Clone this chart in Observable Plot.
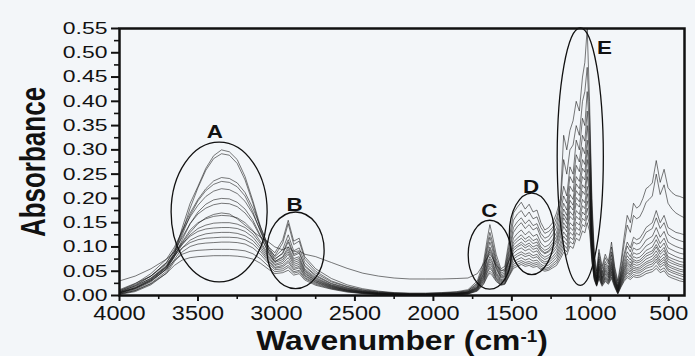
<!DOCTYPE html>
<html><head><meta charset="utf-8">
<script src="https://cdn.jsdelivr.net/npm/d3@7"></script>
<script src="https://cdn.jsdelivr.net/npm/@observablehq/plot@0.6"></script>
<style>
html,body{margin:0;padding:0;background:#f3f6f9;}
#chart{width:695px;height:356px;}
</style></head><body><div id="chart"></div>
<script>
// ---- data ----
const wavenumbers = [
  4000,3900,3800,3700,3650,3600,3550,3500,3450,3400,3350,3300,3250,3200,3150,3100,3050,
  3010,2960,2925,2890,2855,2820,2750,2650,2550,2450,2350,2250,2150,2050,1950,1850,
  1780,1720,1680,1655,1640,1625,1600,1570,1545,1515,1490,1465,1440,1415,1390,1365,1340,1315,1290,1265,
  1240,1215,1190,1170,1150,1130,1110,1090,1070,1050,1035,1020,1005,990,975,960,
  945,925,905,885,865,845,825,805,785,765,745,725,705,685,665,645,625,605,580,555,530,505,480,455,430,400
];
const s01 = [
  .012,.025,.040,.065,.085,.140,.190,.225,.262,.288,.300,.296,.280,.245,.195,.140,.100,
  .088,.115,.155,.112,.118,.080,.055,.035,.022,.014,.009,.006,.005,.005,.006,.008,
  .012,.030,.070,.120,.146,.125,.085,.055,.060,.120,.170,.182,.192,.178,.188,.172,.176,.150,.135,.140,
  .150,.170,.200,.330,.300,.340,.360,.400,.380,.450,.480,.550,.400,.200,.090,.050,
  .095,.060,.085,.070,.110,.060,.030,.070,.120,.165,.150,.190,.180,.185,.200,.220,.225,.232,.278,.233,.260,.222,.212,.206,.204,.200
];
const s02 = [
  .008,.020,.035,.060,.090,.130,.180,.222,.258,.282,.292,.289,.272,.238,.190,.135,.095,
  .082,.108,.148,.105,.112,.075,.050,.030,.019,.012,.008,.005,.004,.004,.005,.007,
  .010,.026,.062,.108,.130,.112,.076,.050,.055,.108,.155,.168,.175,.162,.172,.158,.162,.140,.128,.132,
  .140,.160,.190,.280,.250,.300,.310,.350,.330,.400,.420,.470,.370,.185,.080,.045,
  .088,.055,.078,.065,.100,.055,.025,.062,.105,.145,.130,.165,.158,.162,.175,.192,.198,.205,.250,.208,.228,.190,.178,.170,.165,.160
];
const s03 = [
  .010,.022,.040,.068,.095,.135,.170,.198,.220,.236,.243,.241,.232,.212,.180,.140,.100,
  .080,.095,.125,.092,.098,.068,.046,.028,.018,.011,.007,.005,.004,.004,.005,.006,
  .010,.024,.058,.100,.120,.104,.070,.046,.050,.098,.140,.152,.160,.148,.156,.144,.148,.128,.118,.122,
  .135,.150,.185,.225,.205,.265,.250,.320,.300,.365,.350,.420,.340,.170,.075,.040,
  .080,.048,.070,.058,.090,.048,.020,.052,.085,.110,.098,.120,.115,.118,.128,.140,.145,.150,.175,.150,.165,.140,.135,.130,.128,.125
];
const s04 = [
  .006,.016,.032,.058,.085,.125,.165,.195,.216,.229,.235,.233,.224,.205,.172,.130,.092,
  .074,.088,.115,.085,.090,.062,.042,.025,.016,.010,.006,.004,.003,.003,.004,.005,
  .008,.022,.054,.092,.110,.096,.065,.043,.046,.092,.130,.142,.150,.138,.146,.135,.140,.120,.110,.114,
  .125,.140,.172,.205,.190,.245,.232,.290,.275,.330,.318,.380,.310,.150,.065,.036,
  .075,.045,.065,.054,.084,.044,.018,.048,.078,.102,.090,.110,.106,.108,.118,.130,.134,.138,.160,.138,.150,.126,.120,.116,.113,.110
];
const s05 = [
  .010,.024,.045,.075,.100,.132,.162,.186,.204,.215,.220,.218,.210,.194,.168,.132,.095,
  .076,.086,.110,.082,.087,.060,.040,.024,.015,.009,.006,.004,.003,.003,.004,.005,
  .008,.020,.050,.084,.100,.088,.060,.040,.043,.084,.118,.128,.135,.125,.132,.122,.126,.108,.100,.104,
  .115,.130,.160,.190,.176,.225,.214,.268,.255,.305,.292,.350,.290,.140,.060,.034,
  .070,.042,.060,.050,.076,.040,.016,.044,.070,.090,.080,.098,.094,.096,.104,.114,.118,.122,.140,.120,.132,.110,.105,.101,.098,.095
];
const s06 = [
  .005,.014,.030,.055,.080,.115,.148,.172,.188,.197,.200,.199,.192,.178,.155,.122,.088,
  .070,.080,.100,.076,.080,.055,.037,.022,.014,.008,.005,.003,.002,.002,.003,.004,
  .007,.018,.046,.080,.095,.084,.057,.038,.040,.078,.110,.118,.125,.116,.122,.113,.117,.100,.093,.097,
  .108,.122,.150,.178,.165,.208,.198,.245,.235,.280,.270,.320,.268,.130,.056,.031,
  .065,.038,.056,.046,.070,.036,.014,.040,.064,.082,.073,.088,.085,.087,.094,.102,.106,.110,.125,.107,.118,.098,.094,.090,.087,.085
];
const s07 = [
  .008,.020,.040,.068,.092,.120,.148,.168,.180,.187,.190,.189,.183,.170,.150,.120,.088,
  .070,.078,.095,.072,.076,.052,.035,.021,.013,.008,.005,.003,.002,.002,.003,.004,
  .007,.017,.044,.076,.090,.080,.054,.036,.038,.074,.104,.112,.118,.110,.115,.107,.110,.095,.088,.092,
  .102,.115,.142,.168,.156,.196,.186,.230,.220,.262,.254,.300,.252,.122,.052,.029,
  .061,.036,.053,.043,.066,.034,.012,.037,.059,.075,.067,.080,.077,.079,.085,.093,.096,.100,.115,.098,.108,.088,.084,.080,.077,.075
];
const s08 = [
  .030,.040,.055,.075,.090,.108,.130,.148,.160,.167,.170,.168,.158,.145,.132,.120,.110,
  .100,.094,.100,.090,.092,.085,.080,.068,.056,.046,.040,.036,.034,.034,.034,.035,
  .036,.045,.065,.078,.085,.078,.062,.052,.052,.074,.098,.104,.110,.103,.108,.100,.104,.092,.086,.090,
  .098,.110,.135,.160,.148,.185,.176,.216,.206,.245,.238,.280,.238,.118,.052,.030,
  .058,.034,.050,.041,.062,.032,.012,.035,.055,.070,.062,.074,.071,.073,.079,.086,.089,.092,.105,.090,.099,.080,.076,.073,.070,.068
];
const s09 = [
  .006,.015,.032,.058,.082,.110,.135,.150,.158,.163,.165,.164,.160,.150,.134,.110,.084,
  .068,.074,.090,.068,.072,.050,.033,.020,.012,.007,.004,.003,.002,.002,.003,.004,
  .006,.016,.040,.068,.080,.071,.048,.033,.035,.066,.093,.100,.105,.098,.103,.095,.098,.085,.079,.083,
  .092,.103,.127,.150,.139,.173,.165,.202,.193,.228,.221,.260,.222,.110,.048,.028,
  .055,.032,.047,.038,.058,.030,.010,.032,.051,.066,.059,.070,.067,.069,.074,.081,.084,.087,.100,.085,.093,.075,.071,.067,.064,.062
];
const s10 = [
  .004,.012,.028,.055,.080,.105,.125,.138,.145,.149,.150,.150,.147,.140,.127,.106,.080,
  .064,.070,.085,.064,.068,.047,.031,.019,.011,.007,.004,.002,.002,.002,.002,.003,
  .006,.015,.038,.064,.075,.067,.045,.031,.033,.062,.087,.094,.098,.092,.096,.089,.092,.080,.074,.078,
  .087,.097,.120,.142,.131,.163,.156,.190,.182,.215,.208,.245,.210,.104,.045,.026,
  .052,.030,.044,.036,.055,.028,.009,.030,.048,.062,.055,.065,.062,.064,.069,.075,.078,.081,.092,.078,.086,.070,.066,.063,.060,.058
];
const s11 = [
  .007,.018,.036,.062,.085,.106,.122,.132,.137,.139,.140,.140,.138,.132,.120,.100,.077,
  .062,.066,.078,.060,.064,.045,.030,.018,.011,.006,.004,.002,.002,.002,.002,.003,
  .005,.014,.035,.060,.070,.062,.042,.029,.031,.057,.080,.086,.090,.085,.088,.082,.085,.074,.069,.072,
  .080,.090,.110,.131,.121,.150,.143,.175,.167,.198,.191,.225,.194,.096,.042,.024,
  .048,.028,.041,.033,.051,.026,.008,.027,.044,.057,.051,.060,.057,.059,.064,.069,.072,.075,.085,.072,.079,.064,.060,.057,.054,.052
];
const s12 = [
  .003,.010,.025,.050,.074,.098,.114,.122,.127,.129,.130,.130,.128,.123,.113,.095,.073,
  .058,.062,.072,.056,.060,.042,.028,.017,.010,.006,.003,.002,.001,.001,.002,.003,
  .005,.013,.033,.056,.065,.058,.039,.027,.029,.054,.075,.081,.085,.080,.083,.077,.080,.070,.065,.068,
  .075,.084,.103,.122,.113,.140,.134,.163,.156,.185,.179,.210,.182,.090,.040,.023,
  .045,.026,.038,.031,.048,.024,.007,.025,.041,.053,.048,.056,.054,.055,.060,.065,.068,.070,.080,.068,.074,.060,.056,.053,.050,.048
];
const s13 = [
  .006,.016,.034,.060,.082,.098,.109,.115,.118,.119,.120,.120,.119,.115,.106,.090,.070,
  .056,.059,.068,.053,.057,.040,.027,.016,.009,.005,.003,.002,.001,.001,.002,.002,
  .004,.012,.030,.051,.060,.053,.036,.025,.027,.050,.069,.074,.078,.073,.076,.071,.073,.064,.060,.063,
  .070,.078,.096,.113,.105,.130,.124,.151,.145,.172,.166,.195,.170,.085,.038,.022,
  .042,.024,.036,.029,.045,.022,.006,.023,.038,.049,.044,.052,.050,.051,.055,.060,.063,.065,.075,.063,.069,.055,.051,.048,.045,.042
];
const s14 = [
  .002,.008,.022,.046,.070,.090,.101,.106,.108,.109,.110,.110,.109,.106,.098,.084,.066,
  .053,.055,.062,.049,.052,.037,.025,.015,.009,.005,.003,.001,.001,.001,.001,.002,
  .004,.011,.028,.048,.056,.050,.034,.023,.025,.046,.064,.069,.072,.068,.070,.066,.068,.060,.056,.058,
  .065,.072,.089,.105,.097,.120,.115,.140,.134,.159,.154,.180,.158,.080,.036,.021,
  .040,.023,.034,.027,.042,.021,.005,.021,.035,.046,.041,.048,.046,.047,.051,.056,.058,.060,.070,.058,.064,.051,.047,.044,.041,.038
];
const s15 = [
  .005,.014,.030,.054,.072,.085,.091,.093,.094,.095,.095,.095,.094,.092,.086,.075,.060,
  .049,.051,.058,.046,.049,.035,.023,.014,.008,.004,.002,.001,.001,.001,.001,.002,
  .003,.010,.025,.043,.050,.045,.031,.022,.024,.043,.060,.064,.068,.064,.066,.062,.064,.056,.053,.055,
  .061,.067,.082,.097,.090,.111,.106,.129,.124,.146,.142,.165,.146,.074,.034,.020,
  .037,.021,.031,.025,.038,.019,.004,.019,.032,.041,.037,.043,.041,.042,.046,.050,.052,.054,.062,.052,.057,.045,.041,.038,.035,.032
];
const s16 = [
  .003,.010,.024,.046,.062,.073,.078,.080,.081,.082,.082,.082,.081,.079,.075,.066,.054,
  .045,.047,.052,.042,.045,.032,.021,.013,.007,.004,.002,.001,.001,.001,.001,.001,
  .003,.009,.023,.040,.046,.041,.029,.021,.023,.041,.056,.060,.064,.060,.062,.058,.060,.053,.050,.052,
  .057,.062,.076,.089,.083,.102,.097,.118,.113,.133,.129,.150,.133,.068,.032,.019,
  .034,.019,.029,.023,.035,.017,.003,.017,.029,.037,.033,.039,.037,.038,.041,.045,.047,.049,.056,.047,.051,.040,.036,.033,.030,.028
];
const seriesNames = ["s01","s02","s03","s04","s05","s06","s07","s08","s09","s10","s11","s12","s13","s14","s15","s16"];
const seriesValues = [s01,s02,s03,s04,s05,s06,s07,s08,s09,s10,s11,s12,s13,s14,s15,s16];

const yTicks = [0,0.05,0.10,0.15,0.20,0.25,0.30,0.35,0.40,0.45,0.50,0.55];
const yMinorTicks = [0.025,0.075,0.125,0.175,0.225,0.275,0.325,0.375,0.425,0.475,0.525];
const xTicks = [4000,3500,3000,2500,2000,1500,1000,500];
const xMinorTicks = [3750,3250,2750,2250,1750,1250,750];

// band annotations (ellipses in data units)
const bandLabels = ["A","B","C","D","E"];
const bandCenterWn = [3362, 2875, 1638, 1370, 1061];
const bandCenterAbs = [0.171, 0.092, 0.083, 0.126, 0.285];
const bandRadiusWn = [306, 182, 137, 143, 147];
const bandRadiusAbs = [0.144, 0.079, 0.071, 0.084, 0.265];
const bandLabelWn = [3392, 2884, 1643, 1377, 910];
const bandLabelAbs = [0.336, 0.186, 0.174, 0.2245, 0.509];

// ---- build tidy tables ----
const spectra = [];
seriesValues.forEach((vals, k) => {
  if (vals.length !== wavenumbers.length) console.error(seriesNames[k], vals.length);
  const n = Math.min(vals.length, wavenumbers.length);
  for (let i = 0; i < n; i++) spectra.push({series: seriesNames[k], wn: wavenumbers[i], abs: vals[i]});
});
const bands = bandLabels.map((label, i) => ({
  label, cx: bandCenterWn[i], cy: bandCenterAbs[i], rx: bandRadiusWn[i], ry: bandRadiusAbs[i],
  lx: bandLabelWn[i], ly: bandLabelAbs[i]
}));

const SVGNS = "http://www.w3.org/2000/svg";
function ellipseMark(index, scales) {
  const g = document.createElementNS(SVGNS, "g");
  g.setAttribute("aria-label", "band ellipses");
  for (const b of bands) {
    const cx = scales.x(b.cx), cy = scales.y(b.cy);
    const rx = Math.abs(scales.x(b.cx + b.rx) - cx);
    const ry = Math.abs(scales.y(b.cy + b.ry) - cy);
    const e = document.createElementNS(SVGNS, "ellipse");
    e.setAttribute("cx", cx); e.setAttribute("cy", cy);
    e.setAttribute("rx", rx); e.setAttribute("ry", ry);
    e.setAttribute("fill", "none"); e.setAttribute("stroke", "#111");
    e.setAttribute("stroke-width", "1.3");
    g.appendChild(e);
  }
  return g;
}

const plot = Plot.plot({
  width: 695, height: 356,
  marginLeft: 119, marginRight: 11, marginTop: 28, marginBottom: 61,
  style: {background: "transparent", fontFamily: "'Liberation Sans', Arial, sans-serif", color: "#111"},
  x: {domain: [4000, 400]},
  y: {domain: [0, 0.55]},
  marks: [
    Plot.line(spectra, {x: "wn", y: "abs", z: "series", stroke: "#111", strokeWidth: 0.7, strokeOpacity: 0.8}),
    ellipseMark,
    Plot.text(bands, {x: "lx", y: "ly", text: "label", fontSize: 19, fontWeight: "bold", fill: "#111"}),
    Plot.frame({stroke: "#111", strokeWidth: 2.5}),
    Plot.axisY({ticks: yTicks, tickFormat: d3.format(".2f"), tickSize: 8, tickPadding: 4, fontSize: 17, label: null, strokeWidth: 2, stroke: "#111", fill: "#111"}),
    Plot.axisY({ticks: yMinorTicks, tickSize: 5, label: null, strokeWidth: 1.6, stroke: "#111", fill: "none"}),
    Plot.axisX({ticks: xTicks, tickFormat: d3.format("d"), tickSize: 6, tickPadding: 4, fontSize: 21, label: null, strokeWidth: 2, stroke: "#111", fill: "#111"}),
    Plot.axisX({ticks: xMinorTicks, tickSize: 4, label: null, strokeWidth: 1.6, stroke: "#111", fill: "none"}),
    Plot.text(["Absorbance"], {text: d => d, frameAnchor: "left", textAnchor: "middle", lineAnchor: "middle", dx: -86, rotate: -90, fontSize: 26, fontWeight: "bold", fill: "#111"}),
    Plot.text(["Wavenumber (cm-1)"], {text: d => d, frameAnchor: "bottom", textAnchor: "middle", lineAnchor: "middle", dy: 46, fontSize: 27, fontWeight: "bold", fill: "#111"})
  ]
});
document.getElementById("chart").appendChild(plot);

// ---- typographic touches: superscript and horizontal stretch like the source ----
function stretch(el, s, anchor) {
  const r = el.getBoundingClientRect();
  const ax = anchor === "end" ? r.right : anchor === "start" ? r.left : r.left + r.width / 2;
  const parent = el.parentNode;
  const m = parent.getScreenCTM().inverse();
  const p = new DOMPoint(ax, r.top).matrixTransform(m);
  const g = document.createElementNS(SVGNS, "g");
  g.setAttribute("transform", `translate(${p.x},0) scale(${s},1) translate(${-p.x},0)`);
  parent.insertBefore(g, el);
  g.appendChild(el);
}
const texts = Array.from(plot.querySelectorAll("text"));
for (const t of texts) {
  const label = t.textContent;
  const parentLabel = t.parentNode.getAttribute("aria-label") || "";
  if (label === "Wavenumber (cm-1)") {
    t.textContent = "";
    const a = document.createElementNS(SVGNS, "tspan"); a.textContent = "Wavenumber (cm";
    const sup = document.createElementNS(SVGNS, "tspan"); sup.textContent = "-1";
    sup.setAttribute("font-size", "16"); sup.setAttribute("dy", "-8");
    const c = document.createElementNS(SVGNS, "tspan"); c.textContent = ")"; c.setAttribute("dy", "8");
    t.appendChild(a); t.appendChild(sup); t.appendChild(c);
    stretch(t, 1.18, "middle");
  } else if (label === "Absorbance") {
    stretch(t, 1.35, "middle");
  } else if (bandLabels.includes(label)) {
    stretch(t, 1.18, "middle");
  } else if (parentLabel.startsWith("y-axis tick label")) {
    stretch(t, 1.35, "end");
  } else if (parentLabel.startsWith("x-axis tick label")) {
    stretch(t, 1.12, "middle");
  }
}
</script>
</body></html>
